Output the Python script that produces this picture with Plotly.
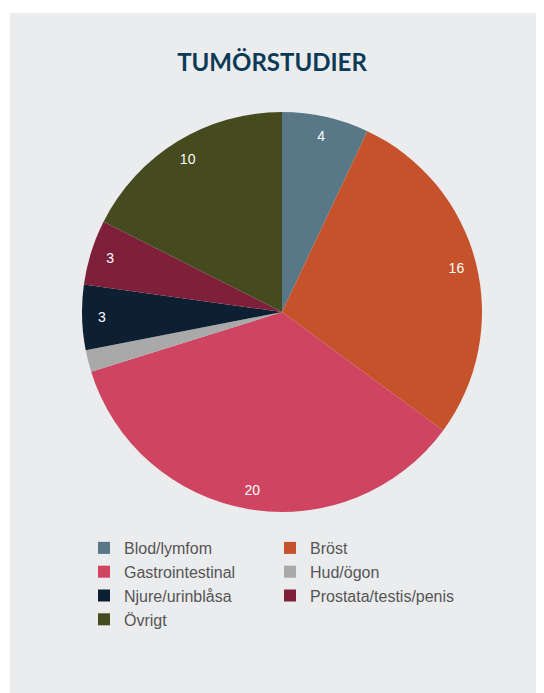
import plotly.graph_objects as go

categories = ["Blod/lymfom", "Bröst", "Gastrointestinal", "Hud/ögon",
              "Njure/urinblåsa", "Prostata/testis/penis", "Övrigt"]
values = [4, 16, 20, 1, 3, 3, 10]
slice_labels = ["4", "16", "20", "", "3", "3", "10"]
colors = ["#587887", "#c5522a", "#cf4460", "#a9a9a9",
          "#0d1f33", "#7e2039", "#464b1f"]

# page has an 8px body margin, so figure is 536x685 placed at (8, 8)
W, H = 536, 685
OFF = 8


def px_x(p):
    return (p - OFF) / W


def px_y(p):
    return 1 - (p - OFF) / H


pie_domain = dict(x=[px_x(82), px_x(482)], y=[px_y(512), px_y(112)])

fig = go.Figure()
fig.add_trace(go.Pie(
    labels=categories, values=values, sort=False, direction="clockwise",
    rotation=0, marker=dict(colors=colors, line=dict(width=0)),
    textinfo="none", domain=pie_domain, hoverinfo="label+value",
))
# transparent ring used only to place the value labels near the rim
fig.add_trace(go.Pie(
    labels=categories, values=values, sort=False, direction="clockwise",
    rotation=0, hole=0.8, text=slice_labels, textinfo="text",
    textposition="inside", insidetextorientation="horizontal",
    textfont=dict(family="Liberation Sans, Arial", size=14, color="white"),
    marker=dict(colors=["rgba(0,0,0,0)"] * len(values), line=dict(width=0)),
    domain=pie_domain, showlegend=False, hoverinfo="skip",
))

fig.update_layout(
    width=W, height=H,
    margin=dict(l=0, r=0, t=0, b=0),
    paper_bgcolor="white",
    title=dict(text="<b>TUMÖRSTUDIER</b>", x=px_x(272), xanchor="center",
               y=px_y(63), yanchor="middle",
               font=dict(family="Lato", size=24, color="#0b3a56")),
    legend=dict(orientation="h", x=px_x(84), xanchor="left",
                y=px_y(531), yanchor="top",
                entrywidth=141, entrywidthmode="pixels",
                font=dict(family="Liberation Sans, Arial", size=16, color="#555555"),
                bgcolor="rgba(0,0,0,0)", traceorder="normal"),
    shapes=[dict(type="rect", xref="paper", yref="paper",
                 x0=px_x(10), x1=1, y0=0, y1=px_y(13),
                 fillcolor="#ebecee", line=dict(width=0), layer="below")],
)

fig.write_html("out.html")
